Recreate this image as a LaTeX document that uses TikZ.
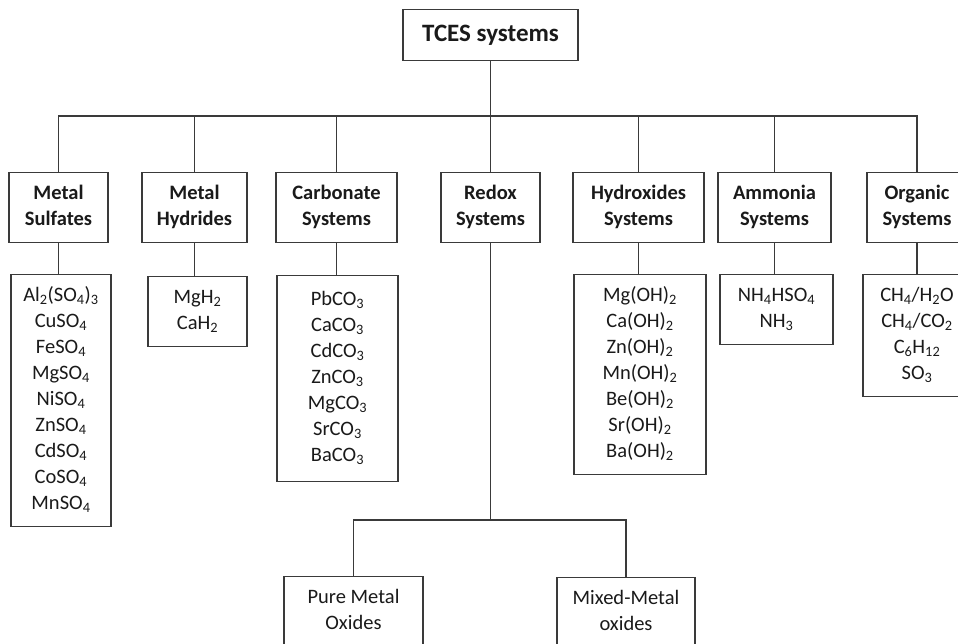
\documentclass[tikz,border=0pt]{standalone}
\usepackage{fontspec}
\setmainfont{Carlito}
\newcommand{\sbs}[1]{\textsubscript{#1}}
\newcommand{\rw}[1]{\strut #1}
\definecolor{linec}{HTML}{3A3A3A}
\definecolor{txt}{HTML}{1A1A1A}
\tikzset{
  box/.style={draw=linec, line width=1.3pt, fill=white, align=center,
    inner xsep=2pt, inner ysep=9pt, text=txt, anchor=north,
    font=\fontsize{20.5}{26}\selectfont},
  head/.style={box, font=\fontsize{20.5}{26}\selectfont\bfseries},
  conn/.style={draw=linec, line width=1.3pt},
}
\begin{document}
\begin{tikzpicture}[x=1pt,y=1pt]
\useasboundingbox (0,0) rectangle (958,-643);
\clip (0,0) rectangle (958,-643);
\fill[white] (0,0) rectangle (958,-643);

% root
\node[box, font=\fontsize{25}{30}\selectfont\bfseries, minimum width=175, minimum height=51, inner ysep=0pt]
  (tces) at (490.5,-9) {TCES systems};

% level 1 headers
\node[head, minimum width=99]  (sulf)   at (58.5,-172)  {\rw{Metal}\\\rw{Sulfates}};
\node[head, minimum width=105] (hyd)    at (194.5,-172) {\rw{Metal}\\\rw{Hydrides}};
\node[head, minimum width=121] (carb)   at (336.5,-172) {\rw{Carbonate}\\\rw{Systems}};
\node[head, minimum width=99]  (redox)  at (490.5,-172) {\rw{Redox}\\\rw{Systems}};
\node[head, minimum width=131] (hydrox) at (638.5,-172) {\rw{Hydroxides}\\\rw{Systems}};
\node[head, minimum width=113] (amm)    at (774.5,-172) {\rw{Ammonia}\\\rw{Systems}};
\node[head, minimum width=100] (org)    at (917,-172)   {\rw{Organic}\\\rw{Systems}};

% lists
\node[box, minimum width=100] (sulfL) at (61,-274) {%
  \rw{Al\sbs{2}(SO\sbs{4})\sbs{3}}\\\rw{CuSO\sbs{4}}\\\rw{FeSO\sbs{4}}\\\rw{MgSO\sbs{4}}\\%
  \rw{NiSO\sbs{4}}\\\rw{ZnSO\sbs{4}}\\\rw{CdSO\sbs{4}}\\\rw{CoSO\sbs{4}}\\\rw{MnSO\sbs{4}}};
\node[box, minimum width=99] (hydL) at (197.5,-276) {\rw{MgH\sbs{2}}\\\rw{CaH\sbs{2}}};
\node[box, minimum width=121, minimum height=206] (carbL) at (337.5,-275) {%
  \rw{PbCO\sbs{3}}\\\rw{CaCO\sbs{3}}\\\rw{CdCO\sbs{3}}\\\rw{ZnCO\sbs{3}}\\%
  \rw{MgCO\sbs{3}}\\\rw{SrCO\sbs{3}}\\\rw{BaCO\sbs{3}}};
\node[box, minimum width=132] (hydroxL) at (640,-274) {%
  \rw{Mg(OH)\sbs{2}}\\\rw{Ca(OH)\sbs{2}}\\\rw{Zn(OH)\sbs{2}}\\\rw{Mn(OH)\sbs{2}}\\%
  \rw{Be(OH)\sbs{2}}\\\rw{Sr(OH)\sbs{2}}\\\rw{Ba(OH)\sbs{2}}};
\node[box, minimum width=113] (ammL) at (776.5,-274) {\rw{NH\sbs{4}HSO\sbs{4}}\\\rw{NH\sbs{3}}};
\node[box, minimum width=108] (orgL) at (917,-274) {%
  \rw{CH\sbs{4}/H\sbs{2}O}\\\rw{CH\sbs{4}/CO\sbs{2}}\\\rw{C\sbs{6}H\sbs{12}}\\\rw{SO\sbs{3}}};

% redox children
\node[box, minimum width=139] (pure)  at (353.5,-576) {\rw{Pure Metal}\\\rw{Oxides}};
\node[box, minimum width=138] (mixed) at (626,-577)   {\rw{Mixed-Metal}\\\rw{oxides}};

% connectors
\coordinate (bus) at (0,-116);
\coordinate (rbus) at (0,-520);
\draw[conn] (tces.south) -- (tces.south |- bus);
\draw[conn] (sulf.north) -- (sulf.north |- bus) -- (org.north |- bus) -- (org.north);
\foreach \n in {hyd,carb,redox,hydrox,amm}
  \draw[conn] (\n.north) -- (\n.north |- bus);
\draw[conn] (sulf.south) -- (sulf.south |- sulfL.north);
\draw[conn] (hyd.south) -- (hyd.south |- hydL.north);
\draw[conn] (carb.south) -- (carb.south |- carbL.north);
\draw[conn] (hydrox.south) -- (hydrox.south |- hydroxL.north);
\draw[conn] (amm.south) -- (amm.south |- ammL.north);
\draw[conn] (org.south) -- (org.south |- orgL.north);
\draw[conn] (redox.south) -- (redox.south |- rbus);
\draw[conn] (pure.north) -- (pure.north |- rbus) -- (mixed.north |- rbus) -- (mixed.north);
\end{tikzpicture}
\end{document}
